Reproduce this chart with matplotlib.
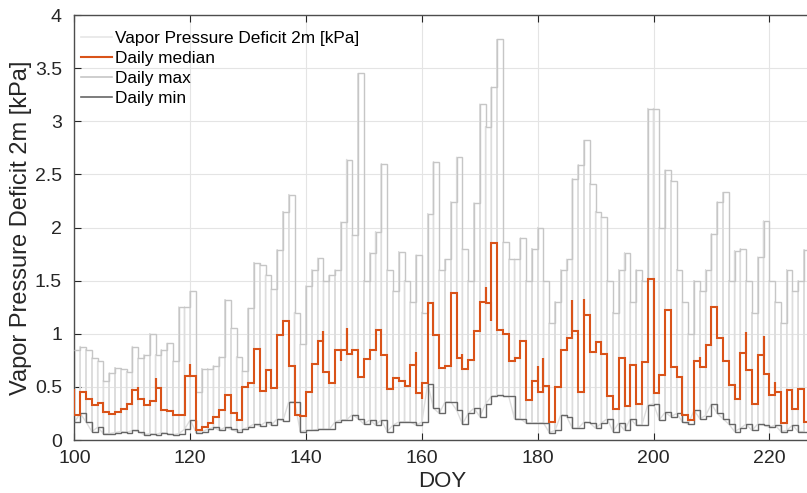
import numpy as np
import matplotlib
matplotlib.use("Agg")
import matplotlib.pyplot as plt
from matplotlib.ticker import FormatStrFormatter, MultipleLocator
from matplotlib.lines import Line2D

plt.rcParams['font.family'] = ['Liberation Sans', 'DejaVu Sans']

# Day of year for each daily value (DOY 100 .. 226)
doy = np.arange(100, 227)

# Daily median VPD [kPa]
vpd_median = [
    0.24, 0.45, 0.39, 0.33, 0.35, 0.26, 0.245, 0.26, 0.29, 0.34,
    0.47, 0.39, 0.33, 0.37, 0.49, 0.28, 0.27, 0.24, 0.24, 0.60,
    0.60, 0.09, 0.125, 0.16, 0.22, 0.28, 0.42, 0.25, 0.19, 0.50,
    0.54, 0.86, 0.46, 0.66, 0.49, 0.99, 1.12, 0.70, 0.24, 0.23,
    0.455, 0.72, 0.93, 0.64, 0.54, 0.85, 0.85, 0.81, 0.85, 0.59,
    0.76, 0.85, 1.04, 0.80, 0.48, 0.58, 0.56, 0.51, 0.71, 0.44,
    0.54, 1.29, 0.99, 0.68, 0.70, 1.38, 0.77, 0.67, 0.75, 1.03,
    1.30, 1.29, 1.85, 1.04, 1.00, 0.74, 0.77, 0.93, 0.38, 0.56,
    0.45, 0.51, 0.17, 0.50, 0.85, 0.96, 1.03, 0.45, 1.18, 0.83,
    0.92, 0.81, 0.41, 0.29, 0.77, 0.32, 0.71, 0.34, 0.73, 1.52,
    0.44, 0.61, 1.22, 0.69, 0.59, 0.24, 0.19, 0.74, 0.69, 0.89,
    1.25, 0.96, 0.74, 0.52, 0.39, 0.82, 0.66, 0.34, 0.80, 0.62,
    0.42, 0.45, 0.16, 0.47, 0.29, 0.48, 0.17,
]

# Daily maximum VPD [kPa]
vpd_max = [
    0.85, 0.88, 0.85, 0.77, 0.74, 0.56, 0.63, 0.68, 0.67, 0.64,
    0.88, 0.77, 0.80, 1.00, 0.80, 0.85, 0.91, 0.74, 1.25, 1.25,
    1.40, 0.45, 0.67, 0.67, 0.70, 0.78, 1.32, 1.05, 0.78, 0.65,
    1.24, 1.67, 1.65, 1.55, 1.42, 1.79, 2.15, 2.31, 1.20, 0.90,
    1.45, 1.60, 1.71, 1.50, 1.55, 1.60, 2.05, 2.64, 1.93, 3.45,
    1.50, 1.76, 1.96, 2.60, 1.60, 1.40, 1.77, 1.50, 1.30, 1.74,
    1.20, 2.13, 2.62, 1.60, 1.70, 2.24, 2.66, 1.80, 1.50, 2.23,
    3.16, 2.95, 3.32, 3.77, 1.86, 1.70, 1.70, 1.90, 1.50, 1.80,
    2.00, 1.50, 1.10, 1.30, 1.60, 1.70, 2.46, 2.59, 2.82, 2.41,
    2.15, 2.10, 1.50, 1.20, 1.60, 1.76, 1.30, 1.60, 1.50, 3.12,
    3.12, 2.00, 2.54, 2.44, 1.60, 1.30, 1.00, 1.50, 1.40, 1.60,
    1.94, 2.24, 2.33, 1.50, 1.78, 1.80, 1.50, 1.20, 1.72, 2.06,
    1.50, 1.30, 1.10, 1.60, 1.40, 1.50, 1.79,
]

# Daily minimum VPD [kPa]
vpd_min = [
    0.17, 0.25, 0.17, 0.08, 0.12, 0.06, 0.06, 0.07, 0.08, 0.07,
    0.09, 0.08, 0.05, 0.06, 0.05, 0.07, 0.06, 0.05, 0.06, 0.10,
    0.19, 0.07, 0.08, 0.10, 0.12, 0.09, 0.12, 0.10, 0.08, 0.10,
    0.12, 0.15, 0.13, 0.17, 0.14, 0.20, 0.18, 0.36, 0.36, 0.08,
    0.09, 0.09, 0.10, 0.10, 0.10, 0.17, 0.19, 0.19, 0.24, 0.20,
    0.15, 0.19, 0.14, 0.19, 0.08, 0.14, 0.17, 0.17, 0.17, 0.14,
    0.17, 0.53, 0.30, 0.25, 0.36, 0.36, 0.28, 0.15, 0.25, 0.30,
    0.22, 0.34, 0.41, 0.42, 0.41, 0.41, 0.20, 0.20, 0.16, 0.16,
    0.16, 0.16, 0.07, 0.09, 0.24, 0.22, 0.11, 0.11, 0.17, 0.16,
    0.11, 0.16, 0.20, 0.08, 0.16, 0.09, 0.20, 0.14, 0.14, 0.33,
    0.34, 0.19, 0.26, 0.22, 0.25, 0.17, 0.15, 0.28, 0.20, 0.23,
    0.34, 0.25, 0.20, 0.15, 0.08, 0.11, 0.15, 0.09, 0.15, 0.14,
    0.12, 0.14, 0.08, 0.09, 0.14, 0.08, 0.08,
]

# Short excursions of the median trace at day boundaries (DOY, kPa)
spike_doy = [100, 111, 114, 120, 143, 146, 147, 159, 160, 167, 171, 172,
             180, 181, 186, 188, 200, 208, 216, 219, 221]
spike_val = [0.47, 0.50, 0.58, 0.72, 1.03, 0.74, 1.05, 0.83, 0.39, 0.81, 1.44, 1.12,
             0.70, 0.77, 1.32, 1.33, 1.46, 0.78, 1.02, 0.98, 0.55]

C_RAW = '#dddddd'
C_MED = '#D95319'
C_MAX = '#c6c6c6'
C_MIN = '#666666'
C_TXT = '#262626'

fig = plt.figure(figsize=(8.07, 4.93), dpi=100)
ax = fig.add_axes([0.0923, 0.1075, 0.9108, 0.862])

edges = np.append(doy, doy[-1] + 1)
vmin = np.asarray(vpd_min)
vmax = np.asarray(vpd_max)
vmed = np.asarray(vpd_median)

# Half-hourly VPD indexed by integer DOY: each day collapses to a vertical
# sweep between its nightly minimum and afternoon maximum.
raw_x = np.repeat(doy, 3)
raw_y = np.column_stack([vmin, vmax, vmin]).ravel()
ax.plot(raw_x, raw_y, color=C_RAW, lw=1.0, zorder=2)

ax.stairs(vmax, edges, baseline=None, color=C_MAX, lw=1.0, zorder=3)
ax.stairs(vmin, edges, baseline=None, color=C_MIN, lw=1.0, zorder=3)

# Median trace as steps, including the brief boundary excursions
spikes = dict(zip(spike_doy, spike_val))
mx, my = [], []
for i, d in enumerate(doy):
    if i > 0:
        mx.append(d); my.append(vmed[i - 1])
    if d in spikes:
        mx.append(d); my.append(spikes[d])
    mx.append(d); my.append(vmed[i])
mx.append(edges[-1]); my.append(vmed[-1])
ax.plot(mx, my, color=C_MED, lw=1.5, zorder=4, solid_joinstyle='miter')

ax.set_xlim(100, 226.94)
ax.set_ylim(0, 4)
ax.xaxis.set_major_locator(MultipleLocator(20))
ax.yaxis.set_major_locator(MultipleLocator(0.5))
ax.yaxis.set_major_formatter(FormatStrFormatter('%g'))
ax.grid(True, color='#e4e4e4', lw=0.8, zorder=0)
ax.set_axisbelow(True)

for side in ('left', 'bottom', 'top'):
    ax.spines[side].set_color('#4d4d4d')
    ax.spines[side].set_linewidth(1.0)
ax.spines['right'].set_visible(False)
ax.tick_params(direction='in', length=5, width=0.8, color=C_TXT,
               labelsize=14, labelcolor=C_TXT, top=True)
ax.tick_params(axis='x', pad=7)
ax.tick_params(axis='y', pad=9)

ax.set_xlabel('DOY', fontsize=16, color=C_TXT, labelpad=3)
ax.set_ylabel('Vapor Pressure Deficit 2m [kPa]', fontsize=17, color=C_TXT, labelpad=2)

handles = [Line2D([], [], color='#e6e6e6', lw=1.2),
           Line2D([], [], color=C_MED, lw=1.5),
           Line2D([], [], color=C_MAX, lw=1.2),
           Line2D([], [], color=C_MIN, lw=1.2)]
labels = ['Vapor Pressure Deficit 2m [kPa]', 'Daily median', 'Daily max', 'Daily min']
ax.legend(handles, labels, loc='upper left', bbox_to_anchor=(0.002, 0.974),
          frameon=False, fontsize=12.4, handlelength=1.8, handletextpad=0.17,
          labelspacing=0.28, borderaxespad=0.0, borderpad=0.3)

fig.savefig('out.png', dpi=100)
